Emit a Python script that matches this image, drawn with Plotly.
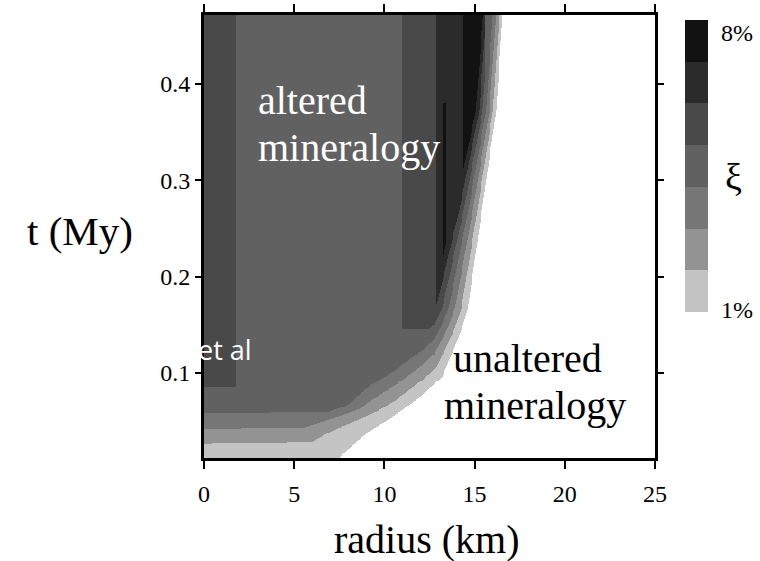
import numpy as np
import plotly.graph_objects as go

# --- alteration front: outer edge of the altered zone (xi = 1 %) ---
front_t = [0.0110, 0.0122, 0.0127, 0.0387, 0.0560, 0.0770, 0.0960, 0.1410, 0.1650, 0.2690, 0.3730, 0.4720]
front_r = [0.0, 5.0, 7.5, 9.1, 10.6, 12.1, 13.2, 14.2, 14.6, 15.4, 16.2, 16.55]

# radial width (km) of one 1 % step just behind the front, versus time
rim_t = [0.012, 0.030, 0.043, 0.060, 0.080, 0.100, 0.140, 0.170, 0.270, 0.370, 0.472]
rim_w = [3.0, 2.4, 2.0, 1.3, 0.8, 0.55, 0.42, 0.35, 0.25, 0.19, 0.18]
# time thickness (My) of one 1 % step where the front runs flat
rim_dt = 0.0156

# interior alteration degree (%) behind the rim
base_xi = 4.5
zone_r0 = [0.0, 11.0, 12.9, 14.4, 13.25]
zone_r1 = [1.8, 12.9, 14.4, 15.6, 13.45]
zone_t0 = [0.085, 0.145, 0.100, 0.100, 0.220]
zone_t1 = [0.480, 0.480, 0.480, 0.480, 0.380]
zone_xi = [5.5, 5.5, 6.5, 7.5, 7.5]

# colour bands for xi = 1..8 %
band_colors = ["#c4c4c4", "#939393", "#767676", "#616161", "#494949", "#2b2b2b", "#121212"]

x_ticks = [0, 5, 10, 15, 20, 25]
y_ticks = [0.1, 0.2, 0.3, 0.4]

# --- build the xi(r, t) field on a fine grid ---
r = np.arange(0.0, 25.0001, 0.05)
t = np.arange(0.0117, 0.4718, 0.001)
Rf = np.interp(t, front_t, front_r)
Tf = np.interp(r, front_r, front_t)
Tf[r > max(front_r)] = np.inf
W = np.interp(t, rim_t, rim_w)

rim_h = 1.0 + (Rf[:, None] - r[None, :]) / W[:, None]
rim_v = 1.0 + (t[:, None] - Tf[None, :]) / rim_dt
rim = np.minimum(rim_h, rim_v)

interior = np.full((t.size, r.size), base_xi)
for r0, r1, t0, t1, v in zip(zone_r0, zone_r1, zone_t0, zone_t1, zone_xi):
    m = (t[:, None] >= t0) & (t[:, None] <= t1) & (r[None, :] >= r0) & (r[None, :] < r1)
    interior[m] = v

xi = np.minimum(rim, interior)
xi[xi < 1.0] = np.nan

n = len(band_colors)
colorscale = []
for i, c in enumerate(band_colors):
    colorscale.append([i / n, c])
    colorscale.append([(i + 1) / n, c])

serif = "Liberation Serif, Times New Roman, serif"

fig = go.Figure()
fig.add_trace(go.Heatmap(
    x=r, y=t, z=xi, zmin=1, zmax=8, zsmooth=False,
    colorscale=colorscale, hoverinfo="skip",
    colorbar=dict(
        x=1.0665, xanchor="left", xpad=0, ypad=0,
        y=0.989, yanchor="top", len=0.659, lenmode="fraction",
        thickness=23, outlinewidth=0, showticklabels=False, ticks="",
    ),
))

axis_common = dict(
    showgrid=False, zeroline=False, showline=True, linecolor="black", linewidth=3,
    mirror="ticks", ticks="outside", tickwidth=1.5, tickcolor="black",
    tickfont=dict(family=serif, size=24, color="black"), automargin=False,
)
fig.update_xaxes(range=[0, 25], tickvals=x_ticks, ticktext=[str(v) for v in x_ticks],
                 ticklen=8, ticklabelstandoff=4, **axis_common)
fig.update_yaxes(range=[0.0117, 0.4717], tickvals=y_ticks, ticktext=[f"{v:.1f}" for v in y_ticks],
                 ticklen=6, **axis_common)

annotations = [
    dict(text="t (My)", x=25, y=231, font=dict(family=serif, size=41), xanchor="left"),
    dict(text="radius (km)", x=427, y=539, font=dict(family=serif, size=40), xanchor="center"),
    dict(text="altered", x=256, y=100, font=dict(family=serif, size=40, color="white"), xanchor="left"),
    dict(text="mineralogy", x=256, y=147, font=dict(family=serif, size=40, color="white"), xanchor="left"),
    dict(text="unaltered", x=451, y=358, font=dict(family=serif, size=40), xanchor="left"),
    dict(text="mineralogy", x=442, y=405, font=dict(family=serif, size=40), xanchor="left"),
    dict(text="et al", x=196, y=349, font=dict(family="Open Sans, sans-serif", size=27, color="white"), xanchor="left"),
    dict(text="8%", x=719, y=33, font=dict(family=serif, size=24), xanchor="left"),
    dict(text="1%", x=719, y=310, font=dict(family=serif, size=24), xanchor="left"),
    dict(text="ξ", x=733, y=177, font=dict(family=serif, size=38), xanchor="center"),
]
W_PX, H_PX, L, T, R, B = 760, 561, 204, 15, 105, 103
pw, ph = W_PX - L - R, H_PX - T - B
anns = []
for a in annotations:
    f = a["font"]
    f.setdefault("color", "black")
    anns.append(dict(
        text=a["text"], xref="paper", yref="paper",
        x=(a["x"] - L) / pw, y=(H_PX - B - a["y"]) / ph,
        xanchor=a["xanchor"], yanchor="middle", showarrow=False, font=f,
    ))

fig.update_layout(
    width=W_PX, height=H_PX,
    margin=dict(l=L, r=R, t=T, b=B),
    plot_bgcolor="white", paper_bgcolor="white",
    annotations=anns,
    showlegend=False,
)

fig.write_html("out.html")
